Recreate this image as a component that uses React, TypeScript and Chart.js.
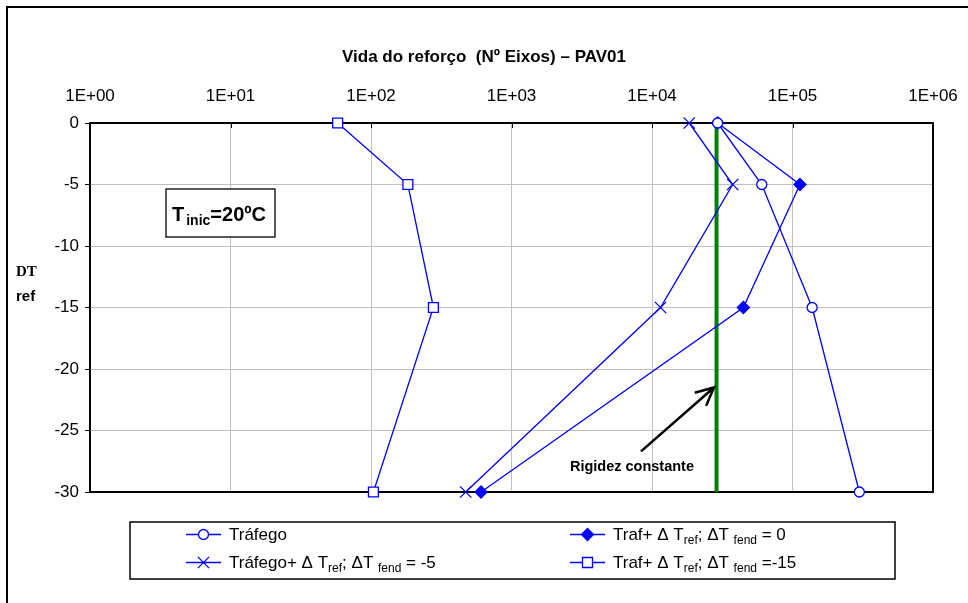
import React, { useEffect, useRef } from "react";
import { Chart, registerables } from "chart.js";

Chart.register(...registerables);

const FONT = "'Liberation Sans', Arial, Helvetica, sans-serif";
const SERIF = "'Liberation Serif', 'DejaVu Serif', serif";
const BLUE = "#0000ff";
const GREEN = "#008000";

// ---- data ----
const yLevels = [0, -5, -15, -30];
const trafego = [2.93e4, 6.04e4, 1.38e5, 2.99e5];
const trafDT0 = [2.93e4, 1.13e5, 4.47e4, 607];
const trafDT5 = [1.84e4, 3.75e4, 1.15e4, 472];
const trafDT15 = [57.9, 183, 278, 104];
const rigidezX = [2.88e4, 2.88e4];
const rigidezY = [0, -30];

const xTickValues = [1, 10, 100, 1e3, 1e4, 1e5, 1e6];
const xTickLabels = ["1E+00", "1E+01", "1E+02", "1E+03", "1E+04", "1E+05", "1E+06"];
const yTickValues = [0, -5, -10, -15, -20, -25, -30];

const titleText = "Vida do reforço  (Nº Eixos) – PAV01";
const annotationText = "Rigidez constante";

// legend label segments: [text, isSubscript]
type Seg = [string, boolean];
const legendLabels: Seg[][] = [
  [["Tráfego", false]],
  [["Traf+ Δ T", false], ["ref", true], ["; ΔT ", false], ["fend", true], [" = 0", false]],
  [["Tráfego+ Δ T", false], ["ref", true], ["; ΔT ", false], ["fend", true], [" = -5", false]],
  [["Traf+ Δ T", false], ["ref", true], ["; ΔT ", false], ["fend", true], [" =-15", false]],
];
const legendMarkers = ["circle", "rectRot", "crossRot", "rect"];

const toPts = (xs: number[], ys: number[]) => xs.map((x, i) => ({ x, y: ys[i] }));

function drawMarker(ctx: CanvasRenderingContext2D, style: string, x: number, y: number) {
  ctx.save();
  ctx.strokeStyle = BLUE;
  ctx.lineWidth = 1.3;
  ctx.beginPath();
  if (style === "circle") {
    ctx.fillStyle = "#fff";
    ctx.arc(x, y, 5, 0, Math.PI * 2);
    ctx.fill();
    ctx.stroke();
  } else if (style === "rectRot") {
    ctx.fillStyle = BLUE;
    ctx.moveTo(x, y - 6);
    ctx.lineTo(x + 6, y);
    ctx.lineTo(x, y + 6);
    ctx.lineTo(x - 6, y);
    ctx.closePath();
    ctx.fill();
    ctx.stroke();
  } else if (style === "crossRot") {
    const o = 5.6;
    ctx.moveTo(x - o, y - o);
    ctx.lineTo(x + o, y + o);
    ctx.moveTo(x + o, y - o);
    ctx.lineTo(x - o, y + o);
    ctx.stroke();
  } else {
    ctx.fillStyle = "#fff";
    ctx.rect(x - 5, y - 5, 10, 10);
    ctx.fill();
    ctx.stroke();
  }
  ctx.restore();
}

const decorPlugin = {
  id: "decor",
  beforeDraw(chart: any) {
    const ctx = chart.ctx as CanvasRenderingContext2D;
    ctx.save();
    ctx.fillStyle = "#fff";
    ctx.fillRect(0, 0, chart.width, chart.height);
    // outer frame (left + top)
    ctx.strokeStyle = "#000";
    ctx.lineWidth = 2;
    ctx.beginPath();
    ctx.moveTo(7, chart.height);
    ctx.lineTo(7, 7);
    ctx.lineTo(chart.width, 7);
    ctx.stroke();
    ctx.restore();
  },
  beforeDatasetsDraw(chart: any) {
    const ctx = chart.ctx as CanvasRenderingContext2D;
    const a = chart.chartArea;
    const xs = chart.scales.x;
    ctx.save();
    ctx.strokeStyle = "#000";
    ctx.lineWidth = 2;
    ctx.strokeRect(a.left, a.top, a.right - a.left, a.bottom - a.top);
    // inward tick marks on the top axis
    ctx.lineWidth = 1;
    ctx.beginPath();
    xTickValues.forEach((v) => {
      const px = Math.round(xs.getPixelForValue(v)) + 0.5;
      ctx.moveTo(px, a.top);
      ctx.lineTo(px, a.top + 5);
    });
    ctx.stroke();
    ctx.restore();
  },
  afterDraw(chart: any) {
    const ctx = chart.ctx as CanvasRenderingContext2D;
    const xs = chart.scales.x;
    const ys = chart.scales.y;
    ctx.save();
    // title
    ctx.fillStyle = "#000";
    ctx.font = `bold 17px ${FONT}`;
    ctx.textAlign = "center";
    ctx.textBaseline = "middle";
    ctx.fillText(titleText, 484, 57);

    // axis title "DT ref"
    ctx.textAlign = "left";
    ctx.font = `bold 15px ${SERIF}`;
    ctx.fillText("DT", 16, 272);
    ctx.font = `bold 15px ${FONT}`;
    ctx.fillText("ref", 16, 297);

    // T inic box
    ctx.lineWidth = 1.3;
    ctx.strokeStyle = "#000";
    ctx.fillStyle = "#fff";
    ctx.fillRect(166, 189, 109, 48);
    ctx.strokeRect(166, 189, 109, 48);
    ctx.fillStyle = "#000";
    ctx.textBaseline = "alphabetic";
    let tx = 172;
    ctx.font = `bold 20px ${FONT}`;
    ctx.fillText("T", tx, 221);
    tx += ctx.measureText("T").width + 2;
    ctx.font = `bold 14px ${FONT}`;
    ctx.fillText("inic", tx, 225);
    tx += ctx.measureText("inic").width;
    ctx.font = `bold 20px ${FONT}`;
    ctx.fillText("=20ºC", tx, 221);

    // arrow annotation
    const tailX = xs.getPixelForValue(8.35e3);
    const tailY = ys.getPixelForValue(-26.7);
    const tipX = xs.getPixelForValue(2.76e4);
    const tipY = ys.getPixelForValue(-21.5);
    ctx.strokeStyle = "#000";
    ctx.lineWidth = 2.5;
    ctx.beginPath();
    ctx.moveTo(tailX, tailY);
    ctx.lineTo(tipX, tipY);
    const ang = Math.atan2(tipY - tailY, tipX - tailX);
    const hl = 20;
    ctx.moveTo(tipX - hl * Math.cos(ang - 0.45), tipY - hl * Math.sin(ang - 0.45));
    ctx.lineTo(tipX, tipY);
    ctx.lineTo(tipX - hl * Math.cos(ang + 0.45), tipY - hl * Math.sin(ang + 0.45));
    ctx.stroke();
    ctx.font = `bold 14.5px ${FONT}`;
    ctx.textAlign = "center";
    ctx.textBaseline = "middle";
    ctx.fillText(annotationText, xs.getPixelForValue(7.2e3), ys.getPixelForValue(-27.95));

    // legend
    ctx.lineWidth = 1.5;
    ctx.strokeStyle = "#000";
    ctx.strokeRect(130, 522, 765, 57);
    const cols = [186, 570];
    const rows = [534, 562];
    legendLabels.forEach((segs, i) => {
      const cx = cols[i % 2];
      const cy = rows[Math.floor(i / 2)];
      ctx.strokeStyle = BLUE;
      ctx.lineWidth = 1.3;
      ctx.beginPath();
      ctx.moveTo(cx, cy + 0.5);
      ctx.lineTo(cx + 35, cy + 0.5);
      ctx.stroke();
      drawMarker(ctx, legendMarkers[i], cx + 17.5, cy + 0.5);
      let x = cx + 43;
      ctx.fillStyle = "#000";
      ctx.textAlign = "left";
      ctx.textBaseline = "alphabetic";
      segs.forEach(([t, sub]) => {
        ctx.font = sub ? `12px ${FONT}` : `17px ${FONT}`;
        ctx.fillText(t, x, sub ? cy + 10 : cy + 6);
        x += ctx.measureText(t).width;
      });
    });
    ctx.restore();
  },
};

const lineDs = (label: string, xs: number[], style: string, radius: number, fill: string) => ({
  label,
  data: toPts(xs, yLevels),
  borderColor: BLUE,
  borderWidth: 1.3,
  backgroundColor: fill,
  pointStyle: style,
  pointRadius: radius,
  pointBorderColor: BLUE,
  pointBackgroundColor: fill,
  pointBorderWidth: 1.3,
  showLine: true,
  fill: false,
  tension: 0,
  clip: false,
});

export default function App() {
  const ref = useRef<HTMLCanvasElement | null>(null);
  useEffect(() => {
    if (!ref.current) return;
    const chart = new Chart(ref.current, {
      type: "scatter",
      data: {
        datasets: [
          lineDs("Tráfego", trafego, "circle", 5, "#ffffff"),
          lineDs("Traf+ ΔTref; ΔTfend = 0", trafDT0, "rectRot", 6, BLUE),
          lineDs("Tráfego+ ΔTref; ΔTfend = -5", trafDT5, "crossRot", 8, "#ffffff"),
          lineDs("Traf+ ΔTref; ΔTfend =-15", trafDT15, "rect", 7, "#ffffff"),
          {
            label: "Rigidez constante",
            data: toPts(rigidezX, rigidezY),
            borderColor: GREEN,
            borderWidth: 4,
            pointRadius: 0,
            showLine: true,
            fill: false,
            clip: false,
          } as any,
        ],
      },
      options: {
        responsive: false,
        animation: false,
        devicePixelRatio: 1,
        layout: { padding: { left: 0, top: 0, right: 35, bottom: 111 } },
        plugins: {
          legend: { display: false },
          tooltip: { enabled: false },
          title: { display: false },
        },
        scales: {
          x: {
            type: "logarithmic",
            position: "top",
            min: 1,
            max: 1e6,
            afterFit: (s: any) => {
              s.height = 123;
              s.paddingLeft = 0;
              s.paddingRight = 0;
            },
            afterBuildTicks: (s: any) => {
              s.ticks = xTickValues.map((v) => ({ value: v }));
            },
            ticks: {
              autoSkip: false,
              maxRotation: 0,
              padding: 16,
              color: "#000",
              font: { family: FONT, size: 17 },
              callback: (v: any) => {
                const i = xTickValues.indexOf(Number(v));
                return i >= 0 ? xTickLabels[i] : "";
              },
            },
            grid: { color: "#c0c0c0", lineWidth: 1, drawTicks: false },
            border: { display: true, color: "#000", width: 2 },
          },
          y: {
            type: "linear",
            min: -30,
            max: 0,
            afterFit: (s: any) => {
              s.width = 90;
              s.paddingTop = 0;
              s.paddingBottom = 0;
            },
            afterBuildTicks: (s: any) => {
              s.ticks = yTickValues.map((v) => ({ value: v }));
            },
            ticks: {
              padding: 6,
              color: "#000",
              font: { family: FONT, size: 17 },
              callback: (v: any) => String(v),
            },
            grid: { color: "#c0c0c0", lineWidth: 1, tickLength: 5, tickColor: "#000" },
            border: { display: true, color: "#000", width: 2 },
          },
        },
      },
      plugins: [decorPlugin],
    });
    return () => chart.destroy();
  }, []);
  return (
    <div style={{ position: "absolute", left: 0, top: 0, width: 968, height: 603 }}>
      <canvas ref={ref} width={968} height={603} style={{ display: "block" }} />
    </div>
  );
}
